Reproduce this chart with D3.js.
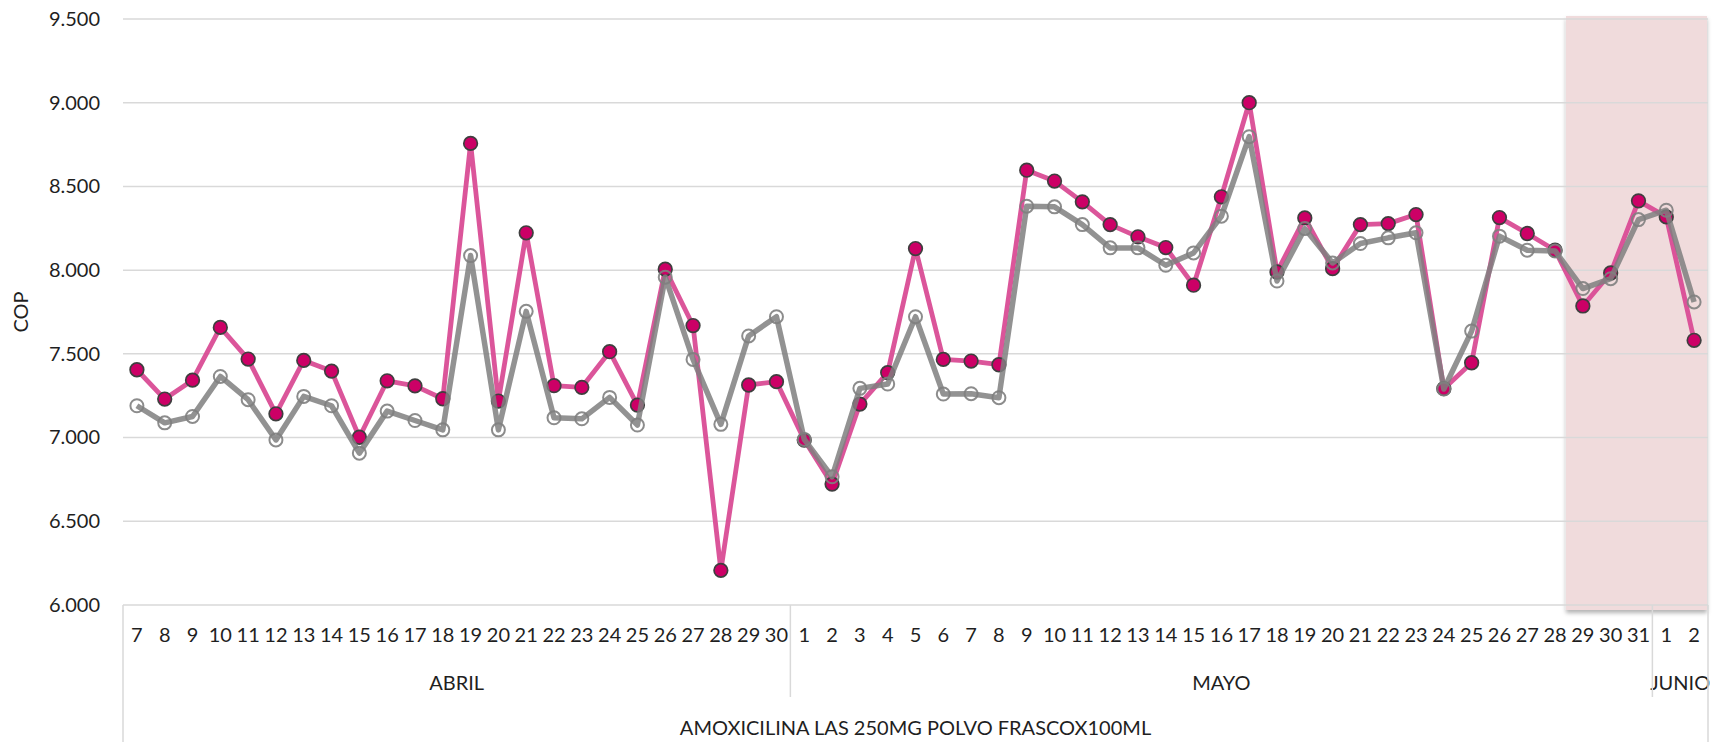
<!DOCTYPE html>
<html>
<head>
<meta charset="utf-8">
<script src="https://cdn.jsdelivr.net/npm/d3@7"></script>
<style>
    html, body { margin: 0; padding: 0; background: #fff; }
    svg { display: block; font-family: Lato, "Open Sans", sans-serif; }
</style>
</head>
<body>
<div id="chart"></div>
<script>
// dias de cada mes (eje de categorias de dos niveles)
const diasAbril = ['7', '8', '9', '10', '11', '12', '13', '14', '15', '16', '17', '18', '19', '20', '21', '22', '23', '24', '25', '26', '27', '28', '29', '30'];
const diasMayo = ['1', '2', '3', '4', '5', '6', '7', '8', '9', '10', '11', '12', '13', '14', '15', '16', '17', '18', '19', '20', '21', '22', '23', '24', '25', '26', '27', '28', '29', '30', '31'];
const diasJunio = ['1', '2'];
const meses = ['ABRIL', 'MAYO', 'JUNIO'];
const producto = 'AMOXICILINA LAS 250MG POLVO FRASCOX100ML';

// serie rosa (marcador relleno)
const serieRosa = [
    7405, 7230, 7343, 7658, 7469, 7142, 7461, 7397, 7002, 7339, 7309, 7232, 8757, 7218, 8223, 7310, 7300, 7513, 7194, 8006, 7669, 6207, 7314, 7334,
    6985, 6722, 7200, 7388, 8129, 7467, 7457, 7435, 8597, 8532, 8408, 8272, 8199, 8135, 7910, 8438, 9000, 7989, 8312, 8009, 8272, 8278, 8332, 7292, 7447, 8314, 8219, 8119, 7786, 7983, 8414,
    8318, 7581
];
// serie gris (marcador hueco)
const serieGris = [
    7190, 7088, 7126, 7365, 7226, 6986, 7246, 7190, 6907, 7158, 7102, 7046, 8087, 7046, 7754, 7118, 7112, 7240, 7075, 7958, 7467, 7079, 7607, 7722,
    6989, 6766, 7294, 7320, 7722, 7260, 7262, 7238, 8382, 8378, 8272, 8133, 8133, 8029, 8103, 8322, 8797, 7935, 8248, 8043, 8159, 8193, 8223, 7290, 7636, 8203, 8119, 8115, 7890, 7949, 8302,
    8358, 7810
];
const yTicks = [6000, 6500, 7000, 7500, 8000, 8500, 9000, 9500];

// periodo resaltado (29 mayo -> fin)
const resaltadoDesde = 'MAYO-29';

const width = 1714;
const height = 742;
const plot = { left: 123, right: 1708, top: 19, bottom: 605 };
const textColor = '#1f1f1f';
const gridColor = '#d9d9d9';

// categorias con su mes
const grupos = [diasAbril, diasMayo, diasJunio];
const cats = [];
grupos.forEach((dias, i) => dias.forEach(d => cats.push({ key: meses[i] + '-' + d, dia: d, mes: meses[i] })));

const dataRosa = cats.map((c, i) => ({ key: c.key, value: serieRosa[i] }));
const dataGris = cats.map((c, i) => ({ key: c.key, value: serieGris[i] }));

const svg = d3.select('#chart')
    .append('svg')
    .attr('width', width)
    .attr('height', height);

const defs = svg.append('defs');
const sombra = defs.append('filter')
    .attr('id', 'sombra')
    .attr('x', '-10%').attr('y', '-5%')
    .attr('width', '120%').attr('height', '110%');
sombra.append('feDropShadow')
    .attr('dx', 0).attr('dy', 3)
    .attr('stdDeviation', 2)
    .attr('flood-color', '#000')
    .attr('flood-opacity', 0.3);

const x = d3.scaleBand()
    .domain(cats.map(c => c.key))
    .range([plot.left, plot.right])
    .padding(0);
const cx = k => x(k) + x.bandwidth() / 2;

const y = d3.scaleLinear()
    .domain([6000, 9500])
    .range([plot.bottom, plot.top]);

// separador de miles con punto
const fmt = d3.formatLocale({ decimal: ',', thousands: '.', grouping: [3], currency: ['$', ''] }).format(',.0f');

// area resaltada (debajo de la cuadricula)
svg.append('rect')
    .attr('x', x(resaltadoDesde) - 3)
    .attr('y', y(9500) - 3)
    .attr('width', plot.right - 1 - (x(resaltadoDesde) - 3))
    .attr('height', y(6000) + 5 - (y(9500) - 3))
    .attr('fill', '#f0dbdc')
    .attr('filter', 'url(#sombra)');

// gridlines
svg.append('g')
    .selectAll('line')
    .data(yTicks)
    .join('line')
    .attr('x1', plot.left)
    .attr('x2', plot.right)
    .attr('y1', d => y(d))
    .attr('y2', d => y(d))
    .attr('stroke', gridColor)
    .attr('stroke-width', 1.5);

// Y axis
const yAxis = svg.append('g')
    .attr('transform', `translate(${plot.left - 23},0)`)
    .call(d3.axisLeft(y).tickValues(yTicks).tickFormat(fmt).tickSize(0).tickPadding(0));
yAxis.select('.domain').remove();
yAxis.selectAll('text')
    .attr('font-family', 'Lato, sans-serif')
    .attr('font-size', '20px')
    .attr('fill', textColor);

svg.append('text')
    .attr('transform', `translate(28,${(plot.top + plot.bottom) / 2}) rotate(-90)`)
    .attr('text-anchor', 'middle')
    .attr('font-size', '20px')
    .attr('fill', textColor)
    .text('COP');

// X axis, nivel dias
const xAxis = svg.append('g')
    .attr('transform', `translate(0,${plot.bottom})`)
    .call(d3.axisBottom(x).tickSize(0).tickPadding(23).tickFormat(k => cats.find(c => c.key === k).dia));
xAxis.select('.domain').remove();
xAxis.selectAll('text')
    .attr('font-family', 'Lato, sans-serif')
    .attr('font-size', '20px')
    .attr('fill', textColor);

// nivel meses
const rangos = meses.map(m => {
    const ks = cats.filter(c => c.mes === m).map(c => c.key);
    return { mes: m, x0: x(ks[0]), x1: x(ks[ks.length - 1]) + x.bandwidth() };
});
svg.append('g')
    .selectAll('text')
    .data(rangos)
    .join('text')
    .attr('x', d => (d.x0 + d.x1) / 2)
    .attr('y', 690)
    .attr('text-anchor', 'middle')
    .attr('font-size', '20px')
    .attr('fill', textColor)
    .text(d => d.mes);

// separadores entre meses
svg.append('g')
    .selectAll('line')
    .data(rangos.slice(1))
    .join('line')
    .attr('x1', d => d.x0)
    .attr('x2', d => d.x0)
    .attr('y1', plot.bottom)
    .attr('y2', 697)
    .attr('stroke', gridColor)
    .attr('stroke-width', 1.5);

// bordes exteriores
svg.append('g')
    .selectAll('line')
    .data([plot.left, plot.right])
    .join('line')
    .attr('x1', d => d)
    .attr('x2', d => d)
    .attr('y1', plot.bottom)
    .attr('y2', height)
    .attr('stroke', gridColor)
    .attr('stroke-width', 1.5);

svg.append('text')
    .attr('x', (plot.left + plot.right) / 2)
    .attr('y', 735)
    .attr('text-anchor', 'middle')
    .attr('font-size', '20px')
    .attr('fill', textColor)
    .text(producto);

const line = d3.line()
    .x(d => cx(d.key))
    .y(d => y(d.value));

// serie rosa
svg.append('path')
    .datum(dataRosa)
    .attr('fill', 'none')
    .attr('stroke', '#d94c95')
    .attr('stroke-opacity', 0.95)
    .attr('stroke-width', 4.8)
    .attr('stroke-linejoin', 'round')
    .attr('d', line);
svg.append('g')
    .selectAll('circle')
    .data(dataRosa)
    .join('circle')
    .attr('cx', d => cx(d.key))
    .attr('cy', d => y(d.value))
    .attr('r', 6.8)
    .attr('fill', '#cc0066')
    .attr('stroke', '#3f3f3f')
    .attr('stroke-width', 1.7);

// serie gris
svg.append('path')
    .datum(dataGris)
    .attr('fill', 'none')
    .attr('stroke', '#7f7f7f')
    .attr('stroke-opacity', 0.85)
    .attr('stroke-width', 5.5)
    .attr('stroke-linejoin', 'round')
    .attr('d', line);
svg.append('g')
    .selectAll('circle')
    .data(dataGris)
    .join('circle')
    .attr('cx', d => cx(d.key))
    .attr('cy', d => y(d.value))
    .attr('r', 6.5)
    .attr('fill', 'none')
    .attr('stroke', '#7f7f7f')
    .attr('stroke-opacity', 0.9)
    .attr('stroke-width', 2);
</script>
</body>
</html>
